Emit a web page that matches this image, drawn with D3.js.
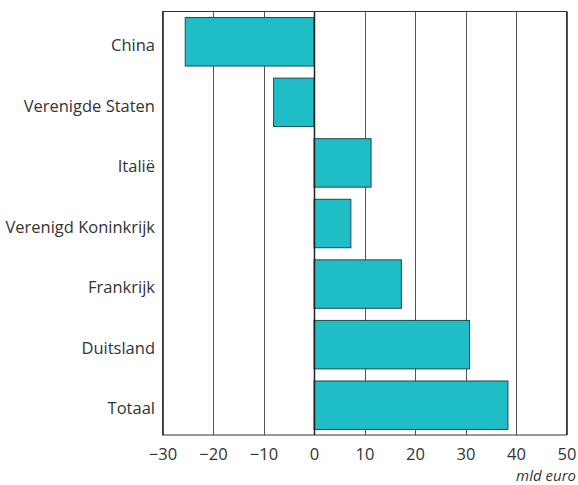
<!DOCTYPE html>
<html>
<head>
<meta charset="utf-8">
<script src="https://cdn.jsdelivr.net/npm/d3@7"></script>
<style>
  body { margin: 0; background: #fff; }
  text { font-family: "Open Sans", sans-serif; fill: #333; }
</style>
</head>
<body>
<div id="main"></div>
<script>
var width = 578,
    height = 485;

var margin = { top: 11.5, right: 11.5, bottom: 50, left: 162.5 };
var FONT_SIZE = "16.5px";

// data
var categories = ["China", "Verenigde Staten", "Italië", "Verenigd Koninkrijk", "Frankrijk", "Duitsland", "Totaal"];
var values = [-25.5, -8.0, 11.3, 7.3, 17.3, 30.8, 38.4];
var xTicks = [-30, -20, -10, 0, 10, 20, 30, 40, 50];
var unitLabel = "mld euro";

var data = categories.map(function(c, i) { return { name: c, value: values[i] }; });

var svg = d3.select("div#main")
    .append("svg")
    .attr("width", width)
    .attr("height", height);

var x = d3.scaleLinear()
    .domain([-30, 50])
    .range([margin.left, width - margin.right]);

var y = d3.scaleBand()
    .domain(categories)
    .range([margin.top, height - margin.bottom + 0.5])
    .paddingInner(0.2)
    .paddingOuter(0.1);

// vertical grid lines
svg.append("g")
    .selectAll("line")
    .data(xTicks)
    .enter().append("line")
    .attr("x1", function(d) { return Math.round(x(d)) + 0.5; })
    .attr("x2", function(d) { return Math.round(x(d)) + 0.5; })
    .attr("y1", margin.top)
    .attr("y2", height - margin.bottom)
    .attr("stroke", "#555")
    .attr("stroke-width", 1);

// bars
svg.append("g")
    .selectAll("rect")
    .data(data)
    .enter().append("rect")
    .attr("x", function(d) { return x(Math.min(0, d.value)); })
    .attr("y", function(d) { return y(d.name); })
    .attr("width", function(d) { return Math.abs(x(d.value) - x(0)); })
    .attr("height", y.bandwidth())
    .attr("fill", "#1fbdc6")
    .attr("stroke", "#1d4a4d")
    .attr("stroke-width", 1);

// zero line on top
svg.append("line")
    .attr("x1", Math.round(x(0)) + 0.5)
    .attr("x2", Math.round(x(0)) + 0.5)
    .attr("y1", margin.top)
    .attr("y2", height - margin.bottom)
    .attr("stroke", "#222")
    .attr("stroke-width", 1.5);

// frame
svg.append("rect")
    .attr("x", margin.left)
    .attr("y", margin.top)
    .attr("width", width - margin.left - margin.right)
    .attr("height", height - margin.top - margin.bottom)
    .attr("fill", "none")
    .attr("stroke", "#333")
    .attr("stroke-width", 1);

// x axis labels
var xAxis = d3.axisBottom(x)
    .tickValues(xTicks)
    .tickSize(0)
    .tickPadding(13)
    .tickFormat(function(d) { return d < 0 ? "\u2212" + Math.abs(d) : d; });

var gx = svg.append("g")
    .attr("transform", `translate(0,${height - margin.bottom})`)
    .call(xAxis);
gx.select(".domain").remove();
gx.selectAll("text")
    .style("font-family", "'Open Sans', sans-serif")
    .style("font-size", FONT_SIZE)
    .attr("fill", "#333");

// y axis labels (sit a little below the bar centre, as in the original)
var yAxis = d3.axisLeft(y).tickSize(0).tickPadding(7.5);
var gy = svg.append("g")
    .attr("transform", `translate(${margin.left},0)`)
    .call(yAxis);
gy.select(".domain").remove();
gy.selectAll("text")
    .attr("dy", "0.56em")
    .style("font-family", "'Open Sans', sans-serif")
    .style("font-size", FONT_SIZE)
    .attr("fill", "#333");

// unit
svg.append("text")
    .attr("x", 576)
    .attr("y", 480.5)
    .attr("text-anchor", "end")
    .style("font-size", "15px")
    .style("font-style", "italic")
    .text(unitLabel);
</script>
</body>
</html>
